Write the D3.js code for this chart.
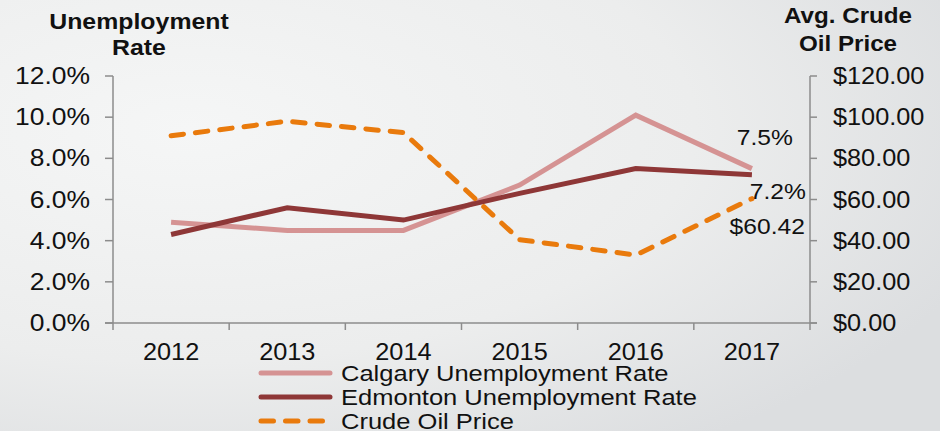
<!DOCTYPE html>
<html><head><meta charset="utf-8">
<script src="https://cdn.jsdelivr.net/npm/d3@7"></script>
<style>html,body{margin:0;padding:0;background:#eee;}svg{display:block;font-family:"Liberation Sans",Arial,Helvetica,sans-serif;}</style>
</head><body>
<script>
const years = ["2012","2013","2014","2015","2016","2017"];
const calgary = [4.9, 4.5, 4.5, 6.7, 10.1, 7.5];
const edmonton = [4.3, 5.6, 5.0, 6.3, 7.5, 7.2];
const oil = [91.0, 98.0, 92.5, 40.5, 33.0, 60.42];
const leftTicks = [0, 2, 4, 6, 8, 10, 12];
const rightTicks = [0, 20, 40, 60, 80, 100, 120];
const seriesNames = ["Calgary Unemployment Rate", "Edmonton Unemployment Rate", "Crude Oil Price"];

const W = 940, H = 431;
const svg = d3.select("body").append("svg").attr("width", W).attr("height", H);
const defs = svg.append("defs");
const g = defs.append("radialGradient").attr("id","bg").attr("cx","20%").attr("cy","30%").attr("r","90%");
g.append("stop").attr("offset","0%").attr("stop-color","#f5f6f6");
g.append("stop").attr("offset","60%").attr("stop-color","#eceded");
g.append("stop").attr("offset","100%").attr("stop-color","#dcdee0");
svg.append("rect").attr("width",W).attr("height",H).attr("fill","url(#bg)");

const x0 = 113, x1 = 810, yTop = 76, yBot = 323;
const x = d3.scaleBand().domain(years).range([x0, x1]);
const yL = d3.scaleLinear().domain([0, 12]).range([yBot, yTop]);
const yR = d3.scaleLinear().domain([0, 120]).range([yBot, yTop]);
const cx = d => x(d) + x.bandwidth()/2;
function stext(sel, tx, ty, str, opts) {
  const t = sel.append("text")
    .attr("transform", `translate(${tx},${ty}) scale(${opts.sx || 1.12},1)`)
    .attr("font-size", opts.size || 22)
    .attr("font-weight", opts.weight || "normal")
    .attr("text-anchor", opts.anchor || "start")
    .attr("fill", "#111")
    .text(str);
  return t;
}

const axisColor = "#8c8c8c";
const ga = svg.append("g");
ga.append("line").attr("x1",x0).attr("x2",x0).attr("y1",yTop).attr("y2",yBot).attr("stroke",axisColor).attr("stroke-width",1.5);
leftTicks.forEach(v => {
  ga.append("line").attr("x1",x0-8).attr("x2",x0).attr("y1",yL(v)).attr("y2",yL(v)).attr("stroke",axisColor).attr("stroke-width",1.5);
  stext(ga, 90, yL(v)+8, v.toFixed(1)+"%", {size:23, anchor:"end", sx:1.15});
});
ga.append("line").attr("x1",x1).attr("x2",x1).attr("y1",yTop).attr("y2",yBot).attr("stroke",axisColor).attr("stroke-width",1.5);
rightTicks.forEach(v => {
  ga.append("line").attr("x1",x1).attr("x2",x1+7).attr("y1",yR(v)).attr("y2",yR(v)).attr("stroke",axisColor).attr("stroke-width",1.5);
  stext(ga, 833, yR(v)+8, "$"+v.toFixed(2), {size:23, sx:1.1});
});
ga.append("line").attr("x1",x0-8).attr("x2",x1+7).attr("y1",yBot).attr("y2",yBot).attr("stroke",axisColor).attr("stroke-width",1.5);
const bounds = years.map(d => x(d)).concat([x1]);
bounds.forEach(b => {
  ga.append("line").attr("x1",b).attr("x2",b).attr("y1",yBot).attr("y2",yBot+7).attr("stroke",axisColor).attr("stroke-width",1.5);
});
years.forEach(d => stext(ga, cx(d), 360, d, {size:23, anchor:"middle", sx:1.1}));

stext(svg, 139, 29, "Unemployment", {size:22, weight:"bold", anchor:"middle", sx:1.13});
stext(svg, 139, 55, "Rate", {size:22, weight:"bold", anchor:"middle", sx:1.13});
stext(svg, 848, 23, "Avg. Crude", {size:22, weight:"bold", anchor:"middle", sx:1.1});
stext(svg, 848, 51, "Oil Price", {size:22, weight:"bold", anchor:"middle", sx:1.1});

const colors = ["#d59393", "#8e3737", "#e97a0c"];
const dash = "12.5,12";
const line = (ys, vals) => d3.line().x((d,i) => cx(years[i])).y(d => ys(d))(vals);
svg.append("path").attr("d", line(yL, calgary)).attr("fill","none").attr("stroke",colors[0]).attr("stroke-width",5);
svg.append("path").attr("d", line(yL, edmonton)).attr("fill","none").attr("stroke",colors[1]).attr("stroke-width",5);
svg.append("path").attr("d", line(yR, oil)).attr("fill","none").attr("stroke",colors[2]).attr("stroke-width",5).attr("stroke-dasharray",dash).attr("stroke-linecap","round");

const last = years.length - 1, lx = cx(years[last]);
stext(svg, lx+41, yL(calgary[last]) - 24, calgary[last].toFixed(1)+"%", {size:22, anchor:"end"});
stext(svg, lx+54, yL(edmonton[last]) + 24, edmonton[last].toFixed(1)+"%", {size:22, anchor:"end"});
stext(svg, lx+53, yR(oil[last]) + 35, "$"+oil[last].toFixed(2), {size:22, anchor:"end"});

const legY = [373, 397, 421];
seriesNames.forEach((n, i) => {
  const l = svg.append("line").attr("x1",261).attr("x2",330).attr("y1",legY[i]).attr("y2",legY[i])
    .attr("stroke",colors[i]).attr("stroke-width",5).attr("stroke-linecap","round");
  if (i === 2) l.attr("stroke-dasharray", dash);
  stext(svg, 341, legY[i]+8, n, {size:22, sx:1.16});
});
</script>
</body></html>
